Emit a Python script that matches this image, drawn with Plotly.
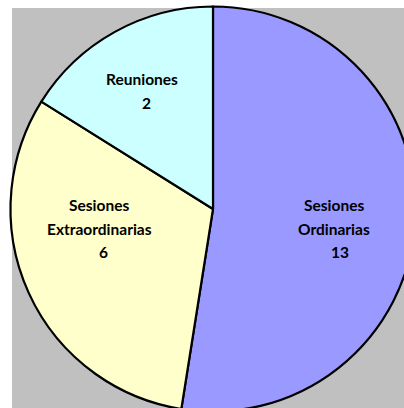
import plotly.graph_objects as go

# ---- data ----
categories = ["Sesiones Ordinarias", "Sesiones Extraordinarias", "Reuniones"]
counts_shown = [13, 6, 2]            # numbers printed on the slices
slice_share_pct = [52.5, 31.4, 16.1]  # slice sizes as drawn (angles)
label_lines = [["Sesiones", "Ordinarias"], ["Sesiones", "Extraordinarias"], ["Reuniones"]]

colors = ["#9999FF", "#FFFFCC", "#CCFFFF"]

W, H = 420, 416


def px(x):
    return x / W


def py(y):
    return 1 - y / H


fig = go.Figure()
fig.add_trace(go.Pie(
    labels=categories,
    values=slice_share_pct,
    sort=False,
    direction="clockwise",
    rotation=0,
    marker=dict(colors=colors, line=dict(color="#000000", width=2.2)),
    textinfo="none",
    hoverinfo="label+text",
    text=[str(c) for c in counts_shown],
    showlegend=False,
    domain=dict(x=[px(10.5), px(415.5)], y=[py(411.5), py(6.5)]),
))

# label anchor points (screen pixels: center x of block, y of first line) and line step
label_anchor = [(334, 205), (99, 205), (142, 79)]
number_dx = [6, 4, 4]
line_step = 23.5

annotations = []
for lines, cnt, (ax, ay), ndx in zip(label_lines, counts_shown, label_anchor, number_dx):
    all_lines = lines + [str(cnt)]
    for i, t in enumerate(all_lines):
        xx = ax + (ndx if i == len(all_lines) - 1 else 0)
        annotations.append(dict(
            x=px(xx), y=py(ay + i * line_step), xref="paper", yref="paper",
            text="<b>%s</b>" % t, showarrow=False, xanchor="center", yanchor="middle",
            font=dict(family="Lato", size=15.5, color="#000000"),
        ))

fig.update_layout(
    width=W, height=H,
    margin=dict(l=0, r=0, t=0, b=0),
    paper_bgcolor="#FFFFFF",
    plot_bgcolor="#FFFFFF",
    shapes=[dict(type="rect", xref="paper", yref="paper",
                 x0=px(12), x1=1.0, y0=0.0, y1=py(8),
                 fillcolor="#C0C0C0", line=dict(width=0), layer="below")],
    annotations=annotations,
)

fig.write_html("out.html", config={"displayModeBar": False},
               post_script="document.body.style.margin='0px';document.body.style.overflow='hidden';")
